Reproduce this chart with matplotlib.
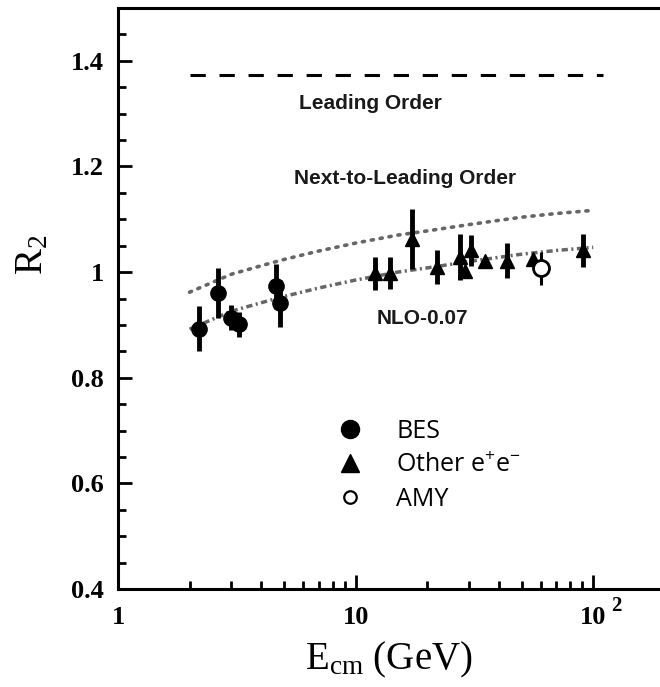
import matplotlib as mpl
mpl.use('Agg')
import matplotlib.pyplot as plt
from matplotlib.lines import Line2D
from matplotlib.ticker import FixedLocator, NullFormatter

mpl.rcParams['mathtext.fontset'] = 'custom'
mpl.rcParams['mathtext.rm'] = 'Liberation Serif'
mpl.rcParams['mathtext.bf'] = 'Liberation Serif:bold'
mpl.rcParams['mathtext.sf'] = 'Open Sans'

# theory curves
th_x = [2, 3, 4, 5, 7, 10, 15, 20, 30, 40, 50, 70, 100]
nlo = [0.962, 0.996, 1.012, 1.024, 1.040, 1.055, 1.070, 1.078, 1.090, 1.098, 1.104, 1.111, 1.117]
nlo_m = [0.892, 0.926, 0.942, 0.954, 0.970, 0.985, 1.000, 1.008, 1.020, 1.028, 1.034, 1.041, 1.047]
lo_x = [2, 110]
lo_y = [1.373, 1.373]

# measurements
bes_x = [2.2, 2.64, 3.0, 3.22, 4.63, 4.81]
bes_y = [0.893, 0.960, 0.914, 0.901, 0.973, 0.941]
bes_e = [0.043, 0.047, 0.024, 0.023, 0.043, 0.045]

oth_x = [12.1, 14.0, 17.2, 22.0, 27.5, 28.9, 30.6, 35.0, 43.4, 56.0, 90.8]
oth_y = [0.998, 0.998, 1.063, 1.009, 1.029, 1.003, 1.041, 1.022, 1.022, 1.025, 1.041]
oth_e = [0.031, 0.030, 0.057, 0.032, 0.044, 0.0, 0.030, 0.0, 0.033, 0.0, 0.032]

amy_x = [60.4]
amy_y = [1.007]
amy_e = [0.031]

fig = plt.figure(figsize=(6.6, 6.87), dpi=100)
ax = fig.add_axes([0.1788, 0.1426, 0.8212, 0.8457])

gray = '#666666'
ax.plot(lo_x, lo_y, color='black', lw=2.2, dashes=(5, 4.5))
ax.plot(th_x, nlo, color=gray, lw=2.6, dashes=(0.6, 1.9), dash_capstyle='round')
ax.plot(th_x, nlo_m, color=gray, lw=2.5, dashes=(1.8, 1.0, 0.6, 1.0))

ax.errorbar(bes_x, bes_y, yerr=bes_e, fmt='o', color='black', ms=11,
            elinewidth=3.5, capsize=0, zorder=4)
ax.errorbar(oth_x, oth_y, yerr=oth_e, fmt='^', color='black', ms=10.5,
            elinewidth=3.5, capsize=0, zorder=4)
ax.errorbar(amy_x, amy_y, yerr=amy_e, fmt='none', ecolor='black',
            elinewidth=2.2, capsize=0, zorder=5)
ax.plot(amy_x, amy_y, 'o', mfc='white', mec='black', mew=2, ms=11.5, zorder=6)

txt = dict(fontfamily='Liberation Sans', fontweight='bold', fontsize=15,
           color='#1a1a1a', ha='center', va='center')
ax.text(11.6, 1.32, 'Leading Order', **txt)
ax.text(16.2, 1.177, 'Next-to-Leading Order', **txt)
ax.text(19.1, 0.912, 'NLO-0.07', **txt)

ax.set_xscale('log')
ax.set_xlim(1, 191)
ax.set_ylim(0.4, 1.5)

ax.xaxis.set_major_locator(FixedLocator([1, 10, 100]))
ax.xaxis.set_minor_locator(FixedLocator([2, 3, 4, 5, 6, 7, 8, 9,
                                         20, 30, 40, 50, 60, 70, 80, 90]))
ax.xaxis.set_minor_formatter(NullFormatter())
ax.set_xticklabels(['1', '10', '10'])
ax.annotate('2', xy=(100, 0.4), xytext=(13, -5), textcoords='offset points',
            ha='left', va='top', fontsize=15, fontfamily='Liberation Serif',
            fontweight='bold')

ax.yaxis.set_major_locator(FixedLocator([0.4, 0.6, 0.8, 1.0, 1.2, 1.4]))
ax.yaxis.set_minor_locator(FixedLocator([0.45, 0.5, 0.55, 0.65, 0.7, 0.75,
                                         0.85, 0.9, 0.95, 1.05, 1.1, 1.15,
                                         1.25, 1.3, 1.35, 1.45]))
ax.set_yticklabels(['0.4', '0.6', '0.8', '1', '1.2', '1.4'])

for lab in ax.get_xticklabels() + ax.get_yticklabels():
    lab.set_fontfamily('Liberation Serif')
    lab.set_fontweight('bold')
    lab.set_fontsize(19)

ax.tick_params(which='both', direction='in', top=False, right=False, width=2)
ax.tick_params(which='major', length=10)
ax.tick_params(which='minor', length=6)
ax.tick_params(axis='y', pad=10)
ax.tick_params(axis='x', pad=12)

for s in ['left', 'top', 'bottom']:
    ax.spines[s].set_linewidth(2.2)
ax.spines['right'].set_visible(False)

ax.set_xlabel(r'$\mathrm{E_{cm}}$ (GeV)', fontfamily='Liberation Serif',
              fontsize=28, labelpad=8)
ax.set_ylabel(r'$\mathrm{R_2}$', fontsize=28)
ax.yaxis.set_label_coords(-0.125, 0.575)

handles = [
    Line2D([], [], ls='none', marker='o', ms=13, color='black'),
    Line2D([], [], ls='none', marker='^', ms=13, color='black'),
    Line2D([], [], ls='none', marker='o', ms=9, mfc='white', mec='black', mew=1.6),
]
labels = ['BES', r'Other $\mathsf{e^{+}e^{-}}$', 'AMY']
leg = ax.legend(handles, labels, loc='upper left', bbox_to_anchor=(0.405, 0.293),
                frameon=False, handlelength=1, handletextpad=1.35,
                labelspacing=0.36, borderpad=0, borderaxespad=0,
                prop={'family': 'Open Sans', 'size': 18})

fig.savefig('out.png', dpi=100)
